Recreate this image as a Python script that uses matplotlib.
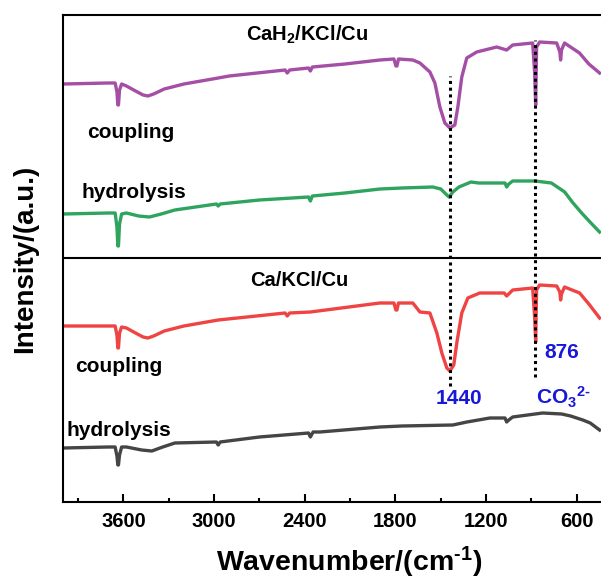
import matplotlib
matplotlib.use("Agg")
import matplotlib.pyplot as plt
from matplotlib.ticker import MultipleLocator

plt.rcParams['font.family'] = ['Liberation Sans', 'DejaVu Sans']
plt.rcParams['font.weight'] = 'bold'
plt.rcParams['mathtext.fontset'] = 'custom'
plt.rcParams['mathtext.rm'] = 'Liberation Sans:bold'
plt.rcParams['mathtext.bf'] = 'Liberation Sans:bold'
plt.rcParams['mathtext.default'] = 'bf'

# spectra (wavenumber, offset intensity in a.u.)
cah2_coupling_wn = [4000, 3700, 3655, 3643, 3637, 3633, 3626, 3612, 3580, 3520, 3470, 3438, 3400,
                    3330, 3200, 2973, 2900, 2530, 2516, 2500, 2375, 2363, 2350, 2134, 1903,
                    1810, 1797, 1790, 1780, 1685, 1638, 1572, 1539, 1506, 1473, 1440, 1407,
                    1387, 1361, 1328, 1262, 1130, 1064, 1024, 892, 879, 872, 866, 846, 733,
                    712, 707, 701, 681, 582, 520, 449]
cah2_coupling = [418, 419, 419, 410, 397, 397, 412, 418, 416, 411, 407, 406, 408,
                 413, 418, 424, 426, 432, 429, 432, 434, 431, 435, 438, 442,
                 443, 436, 436, 443, 442, 439, 430, 419, 395, 379, 374, 377,
                 395, 425, 444, 450, 455, 452, 457, 459, 430, 397, 455, 460, 459,
                 450, 442, 452, 459, 449, 438, 429]

cah2_hydro_wn = [4000, 3700, 3655, 3643, 3637, 3633, 3626, 3612, 3580, 3500, 3428, 3350, 3260,
                 2985, 2973, 2960, 2700, 2375, 2363, 2350, 2134, 1903, 1757, 1553, 1500,
                 1460, 1445, 1420, 1380, 1300, 1249, 1075, 1064, 1050, 1024, 876, 768, 680,
                 630, 568, 500, 449]
cah2_hydro = [288, 289, 289, 275, 256, 256, 278, 288, 289, 286, 285, 288, 292,
              298, 296, 298, 302, 305, 301, 306, 309, 313, 314, 315, 313,
              307, 305, 310, 315, 320, 319, 319, 315, 318, 321, 321, 319, 310,
              300, 289, 278, 270]

ca_coupling_wn = [4000, 3700, 3655, 3643, 3637, 3633, 3626, 3612, 3580, 3520, 3470, 3438, 3400,
                  3330, 3200, 2973, 2530, 2516, 2500, 2363, 1903, 1810, 1797, 1790, 1780,
                  1685, 1638, 1572, 1526, 1493, 1460, 1440, 1414, 1394, 1361, 1321, 1242,
                  1080, 1064, 1024, 892, 879, 872, 866, 846, 733, 712, 707, 701, 681, 581,
                  520, 449]
ca_coupling = [176, 176, 176, 167, 154, 154, 169, 175, 174, 169, 165, 164, 166,
               171, 176, 182, 189, 186, 189, 190, 199, 199, 192, 192, 199,
               199, 190, 189, 169, 149, 134, 131, 137, 159, 189, 204, 209,
               209, 206, 212, 214, 185, 160, 212, 217, 216, 210, 202, 208, 215, 209,
               198, 184]

ca_hydro_wn = [4000, 3700, 3655, 3643, 3637, 3633, 3626, 3612, 3580, 3480, 3412, 3340, 3260,
               2985, 2973, 2960, 2700, 2375, 2363, 2345, 2300, 1903, 1757, 1420, 1327,
               1175, 1075, 1064, 1050, 1024, 826, 700, 641, 560, 511, 449]
ca_hydro = [54, 55, 55, 46, 37, 37, 47, 55, 55, 52, 51, 55, 59,
            60, 57, 60, 65, 69, 65, 70, 70, 75, 76, 77, 80,
            84, 84, 80, 82, 85, 89, 88, 86, 82, 79, 72]

peak_wn = [1440, 876]
peak_span = [(116, 426), (125, 462)]

fig = plt.figure(figsize=(6.01, 5.79), dpi=100)
ax = fig.add_axes([63 / 601, 1 - 502 / 579, 544 / 601, 487 / 579])

ax.plot(cah2_coupling_wn, cah2_coupling, color='#a54ea5', lw=2.4, solid_joinstyle='round')
ax.plot(cah2_hydro_wn, cah2_hydro, color='#2ea45e', lw=2.4, solid_joinstyle='round')
ax.plot(ca_coupling_wn, ca_coupling, color='#f04343', lw=2.4, solid_joinstyle='round')
ax.plot(ca_hydro_wn, ca_hydro, color='#454545', lw=2.4, solid_joinstyle='round')

ax.axhline(244, color='black', lw=1.5)
for wn, (lo, hi) in zip(peak_wn, peak_span):
    ax.plot([wn, wn], [lo, hi], color='black', lw=2.2, ls=(0, (1, 1.2)))

ax.set_xlim(4000, 400)
ax.set_ylim(0, 487)
ax.set_yticks([])
ax.xaxis.set_minor_locator(MultipleLocator(300))
ax.set_xticks([3600, 3000, 2400, 1800, 1200, 600])
ax.tick_params(axis='x', which='major', direction='in', length=6, width=1.5,
               labelsize=14.5, pad=7)
ax.tick_params(axis='x', which='minor', direction='in', length=3, width=1.5)
for sp in ax.spines.values():
    sp.set_linewidth(1.5)

ax.set_xlabel(r'Wavenumber/(cm$^{\text{-}1}$)', fontsize=20.5, fontweight='bold')
ax.xaxis.set_label_coords(0.527, -0.088)
ax.set_ylabel('Intensity/(a.u.)', fontsize=20, fontweight='bold', labelpad=18)

ax.text(2385, 467, 'CaH$_2$/KCl/Cu', ha='center', va='center', fontsize=14.5)
ax.text(3838, 369, 'coupling', ha='left', va='center', fontsize=15)
ax.text(3877, 309, 'hydrolysis', ha='left', va='center', fontsize=15)
ax.text(2437, 221, 'Ca/KCl/Cu', ha='center', va='center', fontsize=14.5)
ax.text(3917, 135, 'coupling', ha='left', va='center', fontsize=15)
ax.text(3976, 71, 'hydrolysis', ha='left', va='center', fontsize=15)

blue = '#1818d8'
ax.text(1381, 103, '1440', ha='center', va='center', fontsize=15, color=blue)
ax.text(813, 149, '876', ha='left', va='center', fontsize=15, color=blue)
ax.text(872, 105, r'CO$_3$$^{2\text{-}}$', ha='left', va='center', fontsize=15, color=blue)

fig.savefig('out.png', dpi=100)
